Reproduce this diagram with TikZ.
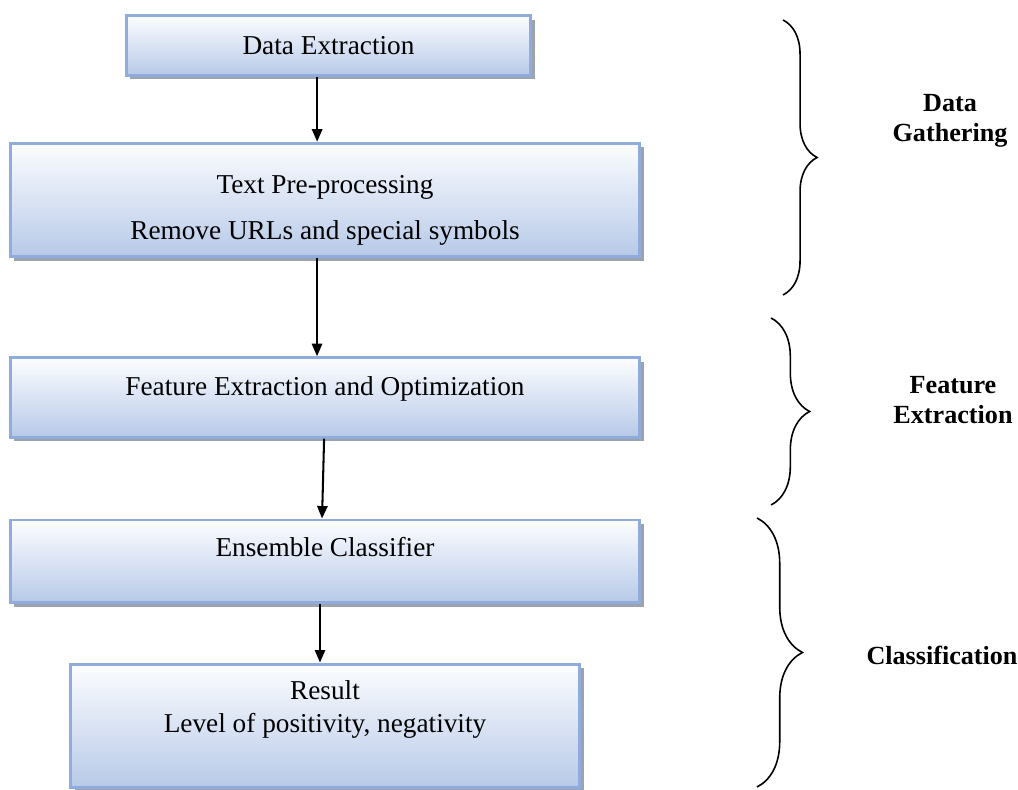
\documentclass[tikz,border=0pt]{standalone}
\usepackage{fontspec}
\setmainfont{Liberation Serif}
\usetikzlibrary{positioning,arrows.meta,shadows,decorations.pathreplacing}
\definecolor{BoxLine}{RGB}{143,172,220}
\definecolor{BoxTop}{RGB}{252,253,255}
\definecolor{BoxBottom}{RGB}{183,201,232}
\definecolor{ShadowGray}{RGB}{130,140,155}
\tikzset{
  stage/.style={draw=BoxLine,line width=1.3pt,top color=BoxTop,bottom color=BoxBottom,
    drop shadow={shadow xshift=1.8pt,shadow yshift=-1.8pt,fill=ShadowGray,opacity=.8},
    align=center,font=\fontsize{12}{14.5}\selectfont,inner sep=0pt},
  flow/.style={-{Triangle[length=5.5pt,width=4.5pt]},line width=0.9pt},
  phase/.style={decorate,decoration={brace,amplitude=#1},line width=0.7pt},
  phasetext/.style={font=\fontsize{11.5}{13}\selectfont\bfseries,align=center},
}
\begin{document}
\begin{tikzpicture}[x=0.44pt,y=-0.44pt]
  \useasboundingbox (0,0) rectangle (1018,790);
  % process boxes
  \node[stage,minimum width=178pt,minimum height=26pt] (extract) at (328.5,45.5) {Data Extraction};
  \node[stage,minimum width=277pt,minimum height=50pt,text height=37pt] (prep) at (325,200)
    {Text Pre-processing\\[5.4pt] Remove URLs and special symbols};
  \node[stage,minimum width=277pt,minimum height=35pt,text height=8.5pt,text depth=10pt] (feat) at (325,397.5)
    {Feature Extraction and Optimization};
  \node[stage,minimum width=277pt,minimum height=36.5pt,text height=8.5pt,text depth=13.3pt] (ens) at (325,561.5)
    {Ensemble Classifier};
  \node[stage,minimum width=224pt,minimum height=54.5pt,text height=8.5pt,text depth=3pt] (res) at (325,726)
    {Result\\Level of positivity, negativity};
  % arrows
  \draw[flow] ([xshift=-5pt]extract.south) -- ([xshift=-5pt]extract.south |- prep.north);
  \draw[flow] ([xshift=-3.5pt]prep.south) -- ([xshift=-3.5pt]prep.south |- feat.north);
  \draw[flow] ([xshift=-0.4pt]feat.south) -- ([xshift=-1.3pt]ens.north);
  \draw[flow] ([xshift=-2.2pt]ens.south) -- ([xshift=-2.2pt]ens.south |- res.north);
  % phases
  \draw[phase=15pt] (783,20) -- (783,295);
  \draw[phase=17pt] (771,318) -- (771,505);
  \draw[phase=20pt] (757,518) -- (757,787);
  \node[phasetext] (gather) at (950,121) {Data\\Gathering};
  \node[phasetext] (featlbl) at (953,400) {Feature\\Extraction};
  \node[phasetext] (classlbl) at (942,655) {Classification};
\end{tikzpicture}
\end{document}
